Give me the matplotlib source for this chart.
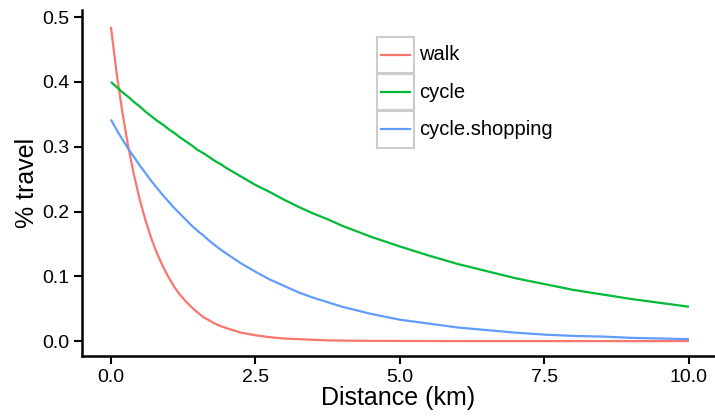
import matplotlib.pyplot as plt
from matplotlib.patches import Rectangle
from matplotlib.lines import Line2D

plt.rcParams['font.family'] = ['Liberation Sans', 'DejaVu Sans']

# distance (km) at which the curves were read
distance = [0, 0.1, 0.2, 0.3, 0.4, 0.5, 0.6, 0.7, 0.8, 0.9,
            1.0, 1.1, 1.2, 1.3, 1.4, 1.5, 1.6, 1.7, 1.8, 1.9,
            2.0, 2.25, 2.5, 2.75, 3.0, 3.25, 3.5, 3.75, 4.0,
            4.5, 5.0, 5.5, 6.0, 6.5, 7.0, 7.5, 8.0, 8.5, 9.0, 9.5, 10.0]

walk = [0.485, 0.413, 0.352, 0.300, 0.256, 0.218, 0.186, 0.158, 0.135, 0.115,
        0.098, 0.083, 0.071, 0.061, 0.052, 0.044, 0.037, 0.032, 0.027, 0.023,
        0.020, 0.013, 0.009, 0.006, 0.004, 0.003, 0.002, 0.0012, 0.0008,
        0.0004, 0.0002, 0.0001, 0.0, 0.0, 0.0, 0.0, 0.0, 0.0, 0.0, 0.0, 0.0]
cycle = [0.400, 0.392, 0.384, 0.377, 0.369, 0.362, 0.354, 0.347, 0.340, 0.334,
         0.327, 0.321, 0.314, 0.308, 0.302, 0.295, 0.290, 0.284, 0.278, 0.273,
         0.267, 0.254, 0.241, 0.230, 0.218, 0.207, 0.197, 0.188, 0.178,
         0.161, 0.146, 0.132, 0.119, 0.108, 0.097, 0.088, 0.079, 0.072, 0.065,
         0.059, 0.053]
cycle_shopping = [0.342, 0.326, 0.311, 0.297, 0.284, 0.271, 0.259, 0.247, 0.236,
                  0.225, 0.215, 0.205, 0.196, 0.187, 0.178, 0.170, 0.163, 0.155,
                  0.148, 0.141, 0.135, 0.120, 0.107, 0.095, 0.085, 0.075, 0.067,
                  0.060, 0.053, 0.042, 0.033, 0.027, 0.021, 0.017, 0.013, 0.010,
                  0.008, 0.007, 0.005, 0.004, 0.003]

series = [("walk", walk, "#F8766D"),
          ("cycle", cycle, "#00BA38"),
          ("cycle.shopping", cycle_shopping, "#619CFF")]

W, H = 715, 419
fig = plt.figure(figsize=(W / 100, H / 100), dpi=100)
ax = fig.add_axes([82 / W, 1 - 356 / H, (715 - 82) / W, (356 - 10) / H])

for name, vals, col in series:
    ax.plot(distance, vals, color=col, lw=1.6, solid_capstyle='butt')

ax.set_xlim(-0.5, 10.45)
ax.set_ylim(-0.023, 0.511)
ax.set_xticks([0, 2.5, 5, 7.5, 10])
ax.set_xticklabels(["0.0", "2.5", "5.0", "7.5", "10.0"])
ax.set_yticks([0, 0.1, 0.2, 0.3, 0.4, 0.5])
ax.set_yticklabels(["0.0", "0.1", "0.2", "0.3", "0.4", "0.5"])
ax.tick_params(axis='both', labelsize=14, length=6, width=1.5, color='black',
               labelcolor='black', pad=3)
ax.set_xlabel("Distance (km)", fontsize=18, labelpad=0)
ax.set_ylabel("% travel", fontsize=18, labelpad=2)
for s in ['top', 'right']:
    ax.spines[s].set_visible(False)
for s in ['left', 'bottom']:
    ax.spines[s].set_linewidth(1.8)

# ggplot-style legend with boxed keys
def fx(px):
    return px / W

def fy(py):
    return 1 - py / H

for i, (name, vals, col) in enumerate(series):
    top = 37 + i * 37
    fig.patches.append(Rectangle((fx(377), fy(top + 36.5)), 37 / W, 36.5 / H,
                                 transform=fig.transFigure, facecolor='white',
                                 edgecolor='#CCCCCC', lw=1.5))
    yc = fy(top + 18)
    fig.lines.append(Line2D([fx(381), fx(410)], [yc, yc], color=col, lw=1.6,
                            transform=fig.transFigure))
    fig.text(fx(419), yc, name, fontsize=14.5, va='center', ha='left')

fig.savefig("out.png", dpi=100)
